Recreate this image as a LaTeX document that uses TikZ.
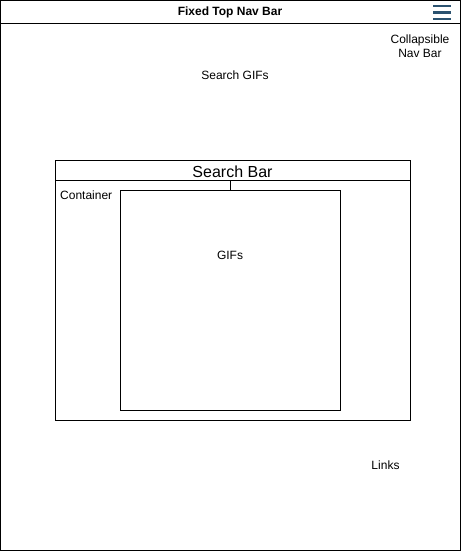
\documentclass[tikz,border=0pt]{standalone}
\usepackage{fontspec}
\setmainfont{Liberation Sans}
\definecolor{hamb}{HTML}{2B5270}
\begin{document}
\begin{tikzpicture}[x=1pt,y=-1pt,
  box/.style={draw=black,line width=1pt},
  lbl/.style={font=\fontsize{12}{14}\selectfont,inner sep=0pt,align=center},
  hline/.style={draw=hamb,line width=2.6pt}]
\useasboundingbox (0,0) rectangle (461,551);
\draw[box] (0.5,0.5) rectangle (460.5,550.5);
\draw[box] (0.5,23.5) -- (460.5,23.5);
\node[lbl,font=\bfseries\fontsize{12}{14}\selectfont] (title) at (230,12.5) {Fixed Top Nav Bar};
\draw[hline] (433,6) -- (451,6);
\draw[hline] (433,12.5) -- (451,12.5);
\draw[hline] (433,19) -- (451,19);
\node[lbl] (collapse) at (420,46) {Collapsible\\Nav Bar};
\node[lbl] (searchgifs) at (235,75.5) {Search GIFs};
\node[box,minimum width=355pt,minimum height=20pt,inner sep=0pt,anchor=north west] (sbar) at (55,160) {};
\node[font=\fontsize{16}{18}\selectfont,inner sep=0pt] (sbarlbl) at (232.5,172) {Search Bar};
\node[box,minimum width=355pt,minimum height=240pt,inner sep=0pt,anchor=north west] (cont) at (55,180) {};
\node[lbl,anchor=west] (contlbl) at (60,195.5) {Container};
\node[box,minimum width=220pt,minimum height=220pt,inner sep=0pt,anchor=north west] (gifs) at (120,190) {};
\node[lbl] (gifslbl) at (230,255.5) {GIFs};
\draw[line width=1pt] (gifs.north) -- (gifs.north |- sbar.south);
\node[lbl] (links) at (385.5,465.5) {Links};
\end{tikzpicture}
\end{document}
